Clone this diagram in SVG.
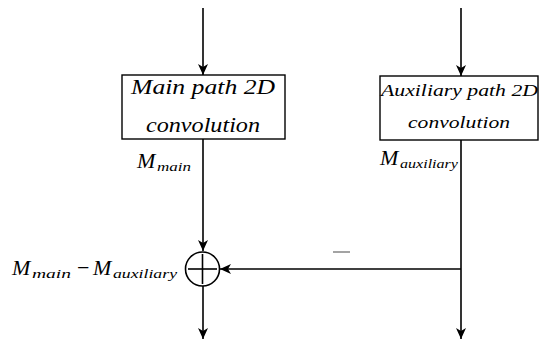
<svg xmlns="http://www.w3.org/2000/svg" width="539" height="345" viewBox="0 0 539 345">
<style>
.box{fill:#fff;stroke:#000;stroke-width:1.4}
.ln{fill:none;stroke:#000;stroke-width:1.6}
.t{font-family:"Liberation Serif","Times New Roman",serif;font-style:italic;fill:#000}
.lt{font-size:22px}
.bx{font-size:20px}
.sub{font-size:13px}
</style>
<defs>
<marker id="ah" viewBox="0 0 12 12" refX="11" refY="6" markerWidth="12" markerHeight="12" markerUnits="userSpaceOnUse" orient="auto">
<path d="M0,1 L11,6 L0,11 L3,6 Z" fill="#000"/>
</marker>
</defs>
<g id="connectors">
<line class="ln" x1="203" y1="8" x2="203" y2="75" marker-end="url(#ah)"/>
<line class="ln" x1="461" y1="8" x2="461" y2="76" marker-end="url(#ah)"/>
<line class="ln" x1="203" y1="139" x2="203" y2="251" marker-end="url(#ah)"/>
<line class="ln" x1="461" y1="140" x2="461" y2="339" marker-end="url(#ah)"/>
<line class="ln" x1="461" y1="269" x2="220" y2="269" marker-end="url(#ah)"/>
<line class="ln" x1="203" y1="286" x2="203" y2="339" marker-end="url(#ah)"/>
</g>
<g id="main">
<rect class="box" x="122" y="75" width="163" height="64"/>
<text class="t bx" x="131" y="94" textLength="144" lengthAdjust="spacingAndGlyphs">Main path 2D</text>
<text class="t bx" x="146" y="132" textLength="114" lengthAdjust="spacingAndGlyphs">convolution</text>
</g>
<g id="aux">
<rect class="box" x="380" y="76" width="158" height="64"/>
<text class="t" x="381" y="96" style="font-size:17px" textLength="157" lengthAdjust="spacingAndGlyphs">Auxiliary path 2D</text>
<text class="t" x="408" y="128" style="font-size:17px" textLength="102" lengthAdjust="spacingAndGlyphs">convolution</text>
</g>
<g id="sum">
<circle cx="202.5" cy="269" r="17" fill="#fff" stroke="#000" stroke-width="1.6"/>
<line class="ln" x1="188" y1="269" x2="217" y2="269"/>
<line class="ln" x1="202.5" y1="254" x2="202.5" y2="284"/>
</g>
<g id="labels">
<text class="t lt" x="137" y="168">M<tspan class="sub" x="157" dy="3" textLength="34" lengthAdjust="spacingAndGlyphs">main</tspan></text>
<text class="t lt" x="380" y="165">M<tspan class="sub" x="400" dy="3" textLength="58" lengthAdjust="spacingAndGlyphs">auxiliary</tspan></text>
<text class="t lt" x="12" y="275">M<tspan class="sub" x="32" dy="3" textLength="39" lengthAdjust="spacingAndGlyphs">main</tspan><tspan x="77" dy="-3" font-style="normal">−</tspan><tspan x="93">M</tspan><tspan class="sub" x="113" dy="3" textLength="64" lengthAdjust="spacingAndGlyphs">auxiliary</tspan></text>
<line x1="333" y1="252" x2="350" y2="252" stroke="#666" stroke-width="1.2"/>
</g>
</svg>
